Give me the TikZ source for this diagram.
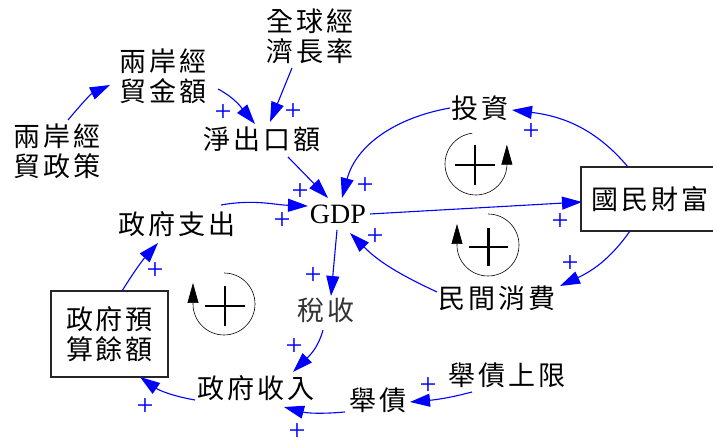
\documentclass[tikz,border=0pt]{standalone}
\usepackage{fontspec}
\setmainfont{Liberation Serif}
\newfontfamily\cjk[LetterSpace=11]{Noto Sans CJK TC}
\usetikzlibrary{arrows.meta}
\begin{document}
\begin{tikzpicture}[x=1pt,y=1pt,
  lbl/.style={font=\cjk\fontsize{27}{30}\selectfont, align=center, inner sep=0pt},
  boxnode/.style={lbl, draw=black!85, line width=1.1pt},
  arr/.style={draw=blue, line width=1.1pt, -{Triangle[length=20pt,width=13pt]}},
  pl/.style={text=blue, font=\fontsize{30}{30}\selectfont, inner sep=0pt},
  loopline/.style={draw=black, line width=0.6pt, -{Triangle[length=20pt,width=11pt]}},
  bigplus/.style={draw=black, line width=2.4pt}]
\useasboundingbox (0,0) rectangle (713,443);

% variables
\node[lbl] (glob) at (310,407) {全球經\\濟長率};
\node[lbl] (amount) at (163,367) {兩岸經\\貿金額};
\node[lbl] (policy) at (57,292) {兩岸經\\貿政策};
\node[lbl] (netexp) at (262,304) {淨出口額};
\node[font=\fontsize{28}{28}\selectfont, inner sep=0pt] (gdp) at (338,229) {GDP};
\node[lbl] (inv) at (480,335) {投資};
\node[boxnode, minimum width=138pt, minimum height=64pt] (wealth) at (650,244) {國民財富};
\node[lbl] (gspend) at (177,219) {政府支出};
\node[lbl] (cons) at (497,145) {民間消費};
\node[lbl, text=black!80] (tax) at (326,133) {稅收};
\node[boxnode, minimum width=117pt, minimum height=86pt] (budget) at (109.5,109) {政府預\\算餘額};
\node[lbl] (grev) at (256,55) {政府收入};
\node[lbl] (debt) at (378,43) {舉債};
\node[lbl] (dlimit) at (507,68) {舉債上限};

% connectors
\draw[arr] ([shift={(11,31)}]policy.center) to[out=50,in=205] ([shift={(-53,-9)}]amount.center);
\draw[arr] ([shift={(55,-13)}]amount.center) to[out=-28,in=130] ([shift={(-7,15)}]netexp.center);
\draw[arr] ([shift={(-18,-32)}]glob.center) -- ([shift={(8,17)}]netexp.center);
\draw[arr] ([shift={(26,-18)}]netexp.center) -- ([shift={(-10,16)}]gdp.center);
\draw[arr] ([shift={(44,19)}]gspend.center) to[out=10,in=178] ([shift={(-30,8)}]gdp.center);
\draw[arr] ([shift={(-30,0)}]inv.center) to[out=190,in=75] ([shift={(4,16)}]gdp.center);
\draw[arr] ([shift={(-22,32)}]wealth.center) to[out=130,in=-7] ([shift={(32,-2)}]inv.center);
\draw[arr] ([shift={(32,0)}]gdp.center) -- ([shift={(-68,-3)}]wealth.center);
\draw[arr] ([shift={(-20,-32)}]wealth.center) to[out=-125,in=25] ([shift={(63,12)}]cons.center);
\draw[arr] ([shift={(-60,6)}]cons.center) to[out=155,in=-45] ([shift={(12,-19)}]gdp.center);
\draw[arr] ([shift={(-1,-16)}]gdp.center) -- ([shift={(5,14)}]tax.center);
\draw[arr] ([shift={(-3,-20)}]tax.center) to[out=-105,in=45] ([shift={(37,16)}]grev.center);
\draw[arr] ([shift={(-61,-12)}]grev.center) to[out=170,in=-35] ([shift={(30.5,-43)}]budget.center);
\draw[arr] ([shift={(12.5,43)}]budget.center) to[bend left=5] ([shift={(-19,-19)}]gspend.center);
\draw[arr] ([shift={(-33,-12)}]debt.center) to[out=185,in=-15] ([shift={(28,-19)}]grev.center);
\draw[arr] ([shift={(-35,-17)}]dlimit.center) to[out=195,in=5] ([shift={(32,-2)}]debt.center);

% polarity signs
\node[pl] (p1) at (223,330) {+};
\node[pl] (p2) at (293,331) {+};
\node[pl] (p3) at (300,251) {+};
\node[pl] (p4) at (282,222) {+};
\node[pl] (p5) at (365,257) {+};
\node[pl] (p6) at (375,206) {+};
\node[pl] (p7) at (531,311) {+};
\node[pl] (p8) at (560,221) {+};
\node[pl] (p9) at (570,179) {+};
\node[pl] (p10) at (313,167) {+};
\node[pl] (p11) at (294,96) {+};
\node[pl] (p12) at (155,172) {+};
\node[pl] (p13) at (145,36) {+};
\node[pl] (p14) at (297,11) {+};
\node[pl] (p15) at (428,57) {+};

% loop markers
\draw[loopline] (476,279) ++(97:31) arc[start angle=97, end angle=355, radius=31] -- ++(0,22);
\draw[bigplus] (455,278) -- (495,278) (475,258) -- (475,298);
\draw[loopline] (488,198) ++(90:31) arc[start angle=90, end angle=-180, radius=31] -- ++(0,21);
\draw[bigplus] (469,196) -- (508,196) (488.5,177) -- (488.5,215);
\draw[loopline] (224,139) ++(90:31) arc[start angle=90, end angle=-180, radius=31] -- ++(0,21);
\draw[bigplus] (205,137) -- (245,137) (225,117) -- (225,157);
\end{tikzpicture}
\end{document}
